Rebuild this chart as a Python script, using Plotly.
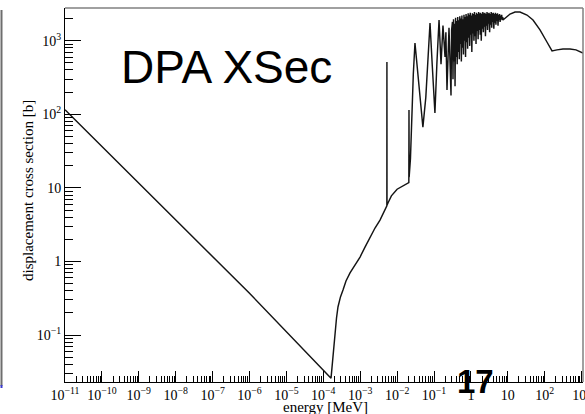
import plotly.graph_objects as go

# ---- data (energy in MeV, cross section in barn) ----
energy_1v = [1e-11, 1.0e-8, 1.0e-6, 1.62e-4]
xs_1v = [115, 3.7, 0.37, 0.026]

energy_low = [1.83e-4, 2.07e-4, 2.28e-4, 2.50e-4, 2.92e-4, 3.42e-4, 4.12e-4, 5.30e-4,
              7.2e-4, 9.9e-4, 1.35e-3, 1.85e-3, 2.52e-3, 3.44e-3,
              5.0e-3, 5.28e-3, 5.30e-3, 5.33e-3, 5.7e-3, 7.0e-3, 1.0e-2, 1.4e-2, 1.95e-2,
              2.08e-2, 2.10e-2, 2.12e-2, 2.3e-2, 2.5e-2, 2.75e-2, 3.05e-2, 3.5e-2, 4.1e-2,
              5.0e-2, 6.0e-2, 6.8e-2, 7.8e-2, 9.0e-2, 0.106, 0.12, 0.137, 0.155, 0.175,
              0.199, 0.21, 0.225, 0.255, 0.289, 0.30]
xs_low = [0.050, 0.117, 0.171, 0.241, 0.33, 0.41, 0.543, 0.70,
          0.896, 1.15, 1.57, 2.16, 2.85, 3.66,
          5.5, 5.7, 514, 5.8, 6.3, 7.8, 9.6, 10.6, 11.5,
          11.8, 114, 14, 25, 100, 350, 930, 450, 160,
          67, 170, 600, 1740, 450, 104, 500, 1910, 480, 1600,
          600, 1300, 214, 1500, 180, 1400]

energy_res = [0.316, 0.327, 0.338, 0.349, 0.361, 0.372, 0.385, 0.398, 0.411, 0.425,
              0.439, 0.453, 0.468, 0.484, 0.500, 0.516, 0.534, 0.551, 0.570, 0.589,
              0.608, 0.629, 0.649, 0.671, 0.693, 0.716, 0.740, 0.765, 0.790, 0.816,
              0.843, 0.871, 0.900, 0.930, 0.961, 0.993, 1.026, 1.060, 1.096, 1.132,
              1.170, 1.208, 1.249, 1.290, 1.333, 1.377, 1.423, 1.471, 1.519, 1.570,
              1.622, 1.675, 1.731, 1.789, 1.848, 1.910, 1.972, 2.038, 2.106, 2.176,
              2.248, 2.323, 2.399, 2.479, 2.562, 2.646, 2.735, 2.825, 2.919, 3.016,
              3.116, 3.219, 3.327, 3.436, 3.551, 3.669, 3.790, 3.917, 4.046, 4.181,
              4.320, 4.463, 4.612, 4.764, 4.922, 5.086, 5.254, 5.429, 5.610, 5.795,
              5.988, 6.187, 6.392, 6.605, 6.824, 7.050, 7.285]
xs_res = [1800, 300, 1950, 520, 1700, 240, 2050, 600, 1850, 480,
          2100, 700, 1900, 560, 2150, 900, 2000, 520, 2200, 800,
          1950, 650, 2250, 1000, 2100, 600, 2300, 950, 2150, 780,
          2350, 1100, 2250, 850, 2400, 1200, 2200, 700, 2350, 1250,
          2300, 1000, 2450, 1150, 2250, 900, 2400, 1350, 2300, 1050,
          2450, 1400, 2350, 1200, 2400, 1000, 2300, 1450, 2450, 1300,
          2350, 1550, 2400, 1150, 2300, 1600, 2450, 1400, 2350, 1700,
          2400, 1300, 2300, 1650, 2450, 1500, 2350, 1800, 2400, 1450,
          2300, 1750, 2400, 1650, 2300, 1850, 2350, 1600, 2250, 1900,
          2300, 1800, 2200, 1950, 2250, 1900, 2100]

energy_high = [7.4, 11.5, 15.7, 21.4, 33.1, 48.2, 74.6, 115, 158, 215, 313, 485, 705, 1090]
xs_high = [1910, 2300, 2450, 2450, 2230, 1910, 1400, 960, 725, 750, 770, 770, 750, 680]

x_tick_vals = [1e-11, 1e-10, 1e-9, 1e-8, 1e-7, 1e-6, 1e-5, 1e-4, 1e-3, 1e-2, 1e-1, 1, 10, 100, 1000]
x_tick_text = ["10<sup>−11</sup>", "10<sup>−10</sup>", "10<sup>−9</sup>", "10<sup>−8</sup>",
               "10<sup>−7</sup>", "10<sup>−6</sup>", "10<sup>−5</sup>", "10<sup>−4</sup>",
               "10<sup>−3</sup>", "10<sup>−2</sup>", "10<sup>−1</sup>", "1", "10",
               "10<sup>2</sup>", "10<sup>3</sup>"]
y_tick_vals = [0.1, 1, 10, 100, 1000]
y_tick_text = ["10<sup>−1</sup>", "1", "10", "10<sup>2</sup>", "10<sup>3</sup>"]

energy = energy_1v + energy_low + energy_res + energy_high
xs = xs_1v + xs_low + xs_res + xs_high

x_minor = [m * 10.0 ** d for d in range(-11, 3) for m in range(2, 10)]
y_minor = [m * 10.0 ** d for d in range(-2, 4) for m in range(2, 10)]

W, H = 585, 414
L, R, T, B = 65, 2, 8, 32
PW, PH = W - L - R, H - T - B


def px(x):
    return (x - L) / PW


def py(y):
    return (H - B - y) / PH


serif = "Liberation Serif"

fig = go.Figure()
fig.add_trace(go.Scatter(x=energy, y=xs, mode="lines",
                         line=dict(color="#141414", width=1.45),
                         showlegend=False, hoverinfo="skip"))

fig.update_layout(
    template="none",
    width=W, height=H,
    margin=dict(l=L, r=R, t=T, b=B, pad=0),
    paper_bgcolor="white", plot_bgcolor="white",
    font=dict(family=serif, size=14, color="black"),
    xaxis=dict(type="log", range=[-11, 3.038], showgrid=False, zeroline=False,
               automargin=False,
               showline=True, linecolor="black", linewidth=1,
               ticks="inside", ticklen=11, tickwidth=1, tickcolor="black",
               tickmode="array", tickvals=x_tick_vals, ticktext=x_tick_text,
               ticklabeloverflow="allow",
               tickfont=dict(family=serif, size=14, color="black"),
               minor=dict(tickmode="array", tickvals=x_minor, ticks="inside",
                          ticklen=6, tickwidth=1, tickcolor="black", showgrid=False)),
    yaxis=dict(type="log", range=[-1.637, 3.444], showgrid=False, zeroline=False,
               automargin=False,
               showline=True, linecolor="black", linewidth=1,
               ticks="inside", ticklen=16, tickwidth=1, tickcolor="black",
               tickmode="array", tickvals=y_tick_vals, ticktext=y_tick_text,
               tickfont=dict(family=serif, size=14, color="black"),
               minor=dict(tickmode="array", tickvals=y_minor, ticks="inside",
                          ticklen=8, tickwidth=1, tickcolor="black", showgrid=False)),
    shapes=[
        dict(type="line", xref="paper", yref="paper", x0=0, x1=1, y0=1, y1=1,
             line=dict(color="#808080", width=1.5)),
        dict(type="line", xref="paper", yref="paper", x0=1, x1=1, y0=0, y1=1,
             line=dict(color="#808080", width=1.5)),
        dict(type="line", xref="paper", yref="paper", x0=px(1.5), x1=px(1.5),
             y0=py(386), y1=py(10), line=dict(color="#6e6e6e", width=2)),
        dict(type="line", xref="paper", yref="paper", x0=px(1.5), x1=px(1.5),
             y0=py(388), y1=py(385), line=dict(color="#3a3ad0", width=2)),
    ],
    annotations=[
        dict(text="DPA XSec", xref="paper", yref="paper", x=px(119), y=py(67),
             xanchor="left", yanchor="middle", showarrow=False,
             font=dict(family="Liberation Sans", size=46, color="black")),
        dict(text="<b>17</b>", xref="paper", yref="paper", x=px(475), y=py(381.5),
             xanchor="center", yanchor="middle", showarrow=False,
             font=dict(family="Liberation Sans", size=33, color="black")),
        dict(text="energy [MeV]", xref="paper", yref="paper", x=px(325), y=py(406.5),
             xanchor="center", yanchor="middle", showarrow=False,
             font=dict(family=serif, size=15, color="black")),
        dict(text="displacement cross section [b]", xref="paper", yref="paper",
             x=px(28), y=py(191), xanchor="center", yanchor="middle", textangle=-90,
             showarrow=False, font=dict(family=serif, size=15, color="black")),
    ],
)

fig.write_html("out.html")
